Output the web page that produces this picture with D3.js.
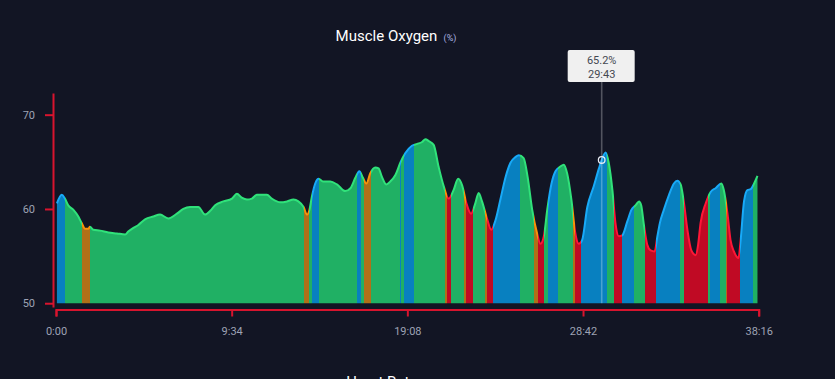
<!DOCTYPE html>
<html><head><meta charset="utf-8">
<script src="https://cdn.jsdelivr.net/npm/d3@7"></script>
<style>html,body{margin:0;padding:0;background:#121524;}svg{display:block;}</style>
</head><body><svg id="c" width="835" height="379"></svg>
<script>
// ---- data (seconds, %SmO2) ----
const times = [3,19,29,40,57,73,84,95,106,111,122,144,171,199,226,236,253,269,291,318,340,367,395,416,438,465,487,504,520,547,575,591,607,624,640,656,689,705,733,755,776,792,809,820,828,836,847,858,874,896,918,945,962,978,991,1003,1014,1027,1043,1054,1065,1079,1092,1109,1125,1141,1163,1180,1196,1207,1218,1234,1250,1267,1283,1299,1314,1327,1341,1356,1370,1381,1392,1409,1422,1436,1452,1469,1485,1501,1512,1528,1541,1556,1572,1583,1594,1605,1619,1632,1648,1659,1670,1684,1697,1708,1719,1736,1757,1774,1783,1796,1806,1818,1828,1839,1850,1867,1880,1894,1905,1912,1921,1932,1943,1956,1965,1973,1986,2003,2019,2030,2041,2052,2063,2076,2090,2098,2106,2123,2139,2155,2174,2182,2194,2204,2215,2230,2237,2248,2259,2270,2281,2292];
const values = [60.6,61.5,61.1,60.4,59.9,59.2,58.5,57.9,57.9,58.1,57.8,57.7,57.5,57.4,57.3,57.6,58.0,58.3,58.9,59.2,59.4,59.0,59.5,60.0,60.2,60.2,59.4,59.8,60.4,60.8,61.1,61.6,61.2,61.0,61.1,61.5,61.5,61.1,60.7,60.8,61.0,60.8,60.2,59.4,59.9,61.3,62.7,63.2,62.9,62.9,62.6,61.9,62.2,63.3,64.0,63.3,62.7,63.8,64.4,64.3,63.4,62.6,62.9,63.6,64.9,65.9,66.7,66.9,67.1,67.4,67.2,66.8,64.5,62.4,61.1,62.0,63.2,62.5,60.6,59.5,60.6,61.7,60.8,58.9,57.8,58.8,61.0,63.4,64.9,65.5,65.7,65.4,63.4,59.9,57.4,56.3,57.1,59.9,62.7,64.0,64.5,64.7,63.8,61.0,57.4,56.3,56.7,60.2,62.4,64.3,65.2,66.0,64.9,62.0,58.5,57.1,57.2,58.7,59.9,60.4,60.8,60.4,58.3,56.2,55.6,55.5,57.1,58.5,59.9,61.5,62.7,63.0,62.6,60.6,57.8,55.6,55.1,56.2,58.5,60.6,61.8,62.2,62.7,62.0,59.5,56.7,55.5,54.8,56.7,60.8,62.0,62.1,62.7,63.5];

// zone boundaries (seconds) and zone kinds between them
const zoneBounds = [0,29,84,111,811,828,837,860,983,997,1005,1030,1125,1128,1136,1171,1272,1279,1292,1334,1341,1361,1401,1409,1428,1515,1563,1574,1596,1607,1640,1690,1695,1717,1799,1823,1848,1888,1926,1962,2038,2052,2130,2137,2169,2188,2193,2235,2276,2296];
const zoneKinds = ["blue","green","orange","green","orange","green","blue","green","blue","green","orange","green","blue","green","blue","green","orange","red","green","orange","red","green","orange","red","blue","green","orange","red","green","blue","green","orange","red","blue","green","red","blue","green","red","blue","green","red","green","blue","green","orange","red","blue","green"];

const xTickValues = [0,574,1148,1722,2296];
const xTickLabels = ["0:00","9:34","19:08","28:42","38:16"];
const yTickValues = [50,60,70];
const tipTime = 1783, tipValue = 65.2;
const tipLines = ["65.2%","29:43"];

// ---- styling ----
const fillCol = {blue:"#0880c0",green:"#20b064",orange:"#b07018",red:"#c00a24"};
const lineCol = {blue:"#18aaf8",green:"#30e27a",orange:"#f8920a",red:"#ff1636"};
const axisCol = "#d8142e";
const font = "Roboto, 'Open Sans', sans-serif";

const svg = d3.select("#c");
const x = d3.scaleLinear().domain([0,2296]).range([56,758.7]);
const y = d3.scaleLinear().domain([49.6,72.3]).range([307,93]);

const defs = svg.append("defs");
function grad(id, cols){
  const g = defs.append("linearGradient").attr("id",id)
    .attr("gradientUnits","userSpaceOnUse")
    .attr("x1",x.range()[0]).attr("x2",x.range()[1]).attr("y1",0).attr("y2",0);
  const w = x.range()[1]-x.range()[0];
  zoneKinds.forEach((k,i)=>{
    const a=(x(zoneBounds[i])-x.range()[0])/w, b=(x(zoneBounds[i+1])-x.range()[0])/w;
    g.append("stop").attr("offset",a).attr("stop-color",cols[k]);
    g.append("stop").attr("offset",b).attr("stop-color",cols[k]);
  });
}
grad("gf",fillCol); grad("gl",lineCol);

const data = times.map((t,i)=>({t,v:values[i]}));
const area = d3.area().x(d=>x(d.t)).y0(y(50)).y1(d=>y(d.v)).curve(d3.curveMonotoneX);
const line = d3.line().x(d=>x(d.t)).y(d=>y(d.v)).curve(d3.curveMonotoneX);
svg.append("path").datum(data).attr("d",area).attr("fill","url(#gf)");
svg.append("path").datum(data).attr("d",line).attr("fill","none").attr("stroke","url(#gl)").attr("stroke-width",2);

// y axis
const ya = svg.append("g").attr("transform","translate(53,0)")
  .call(d3.axisLeft(y).tickValues(yTickValues).tickSize(8).tickPadding(10).tickSizeOuter(0));
ya.select(".domain").attr("stroke",axisCol).attr("stroke-width",2);
ya.selectAll(".tick line").attr("stroke",axisCol).attr("stroke-width",2);
ya.selectAll(".tick text").attr("fill","#9ea3b4").style("font-family",font).style("font-size","11px");

// x axis
const xa = svg.append("g").attr("transform","translate(0,309.5)")
  .call(d3.axisBottom(x).tickValues(xTickValues).tickFormat((d,i)=>xTickLabels[i]).tickSize(7).tickPadding(11).tickSizeOuter(7));
xa.select(".domain").attr("stroke",axisCol).attr("stroke-width",2);
xa.selectAll(".tick line").attr("stroke",axisCol).attr("stroke-width",2);
xa.selectAll(".tick text").attr("fill","#9ea3b4").style("font-family",font).style("font-size","11px");

// title
const t1 = svg.append("text").attr("x",396).attr("y",41).attr("text-anchor","middle").style("font-family",font);
t1.append("tspan").text("Muscle Oxygen").attr("fill","#ffffff").style("font-size","15px");
t1.append("tspan").text(" (%)").attr("fill","#aab4e0").style("font-size","9px").attr("dx",4);

const t2 = svg.append("text").attr("x",397).attr("y",387).attr("text-anchor","middle").style("font-family",font);
t2.append("tspan").text("Heart Rate").attr("fill","#ffffff").style("font-size","15px");
t2.append("tspan").text(" (bpm)").attr("fill","#aab4e0").style("font-size","9px").attr("dx",4);

// tooltip
const tx = x(tipTime), ty = y(tipValue);
svg.append("line").attr("x1",tx).attr("x2",tx).attr("y1",82).attr("y2",y(50))
  .attr("stroke","#ffffff").attr("stroke-opacity",0.27).attr("stroke-width",1.6);
svg.append("circle").attr("cx",tx).attr("cy",ty).attr("r",3.3)
  .attr("fill","none").attr("stroke","#e8ecf4").attr("stroke-width",1.3);
svg.append("rect").attr("x",tx-34).attr("y",50).attr("width",67).attr("height",32).attr("rx",2)
  .attr("fill","#f0f0f0");
tipLines.forEach((s,i)=>{
  svg.append("text").attr("x",tx).attr("y",64+i*13.5).attr("text-anchor","middle")
    .attr("fill","#444850").style("font-family",font).style("font-size","11px").text(s);
});
</script></body></html>
